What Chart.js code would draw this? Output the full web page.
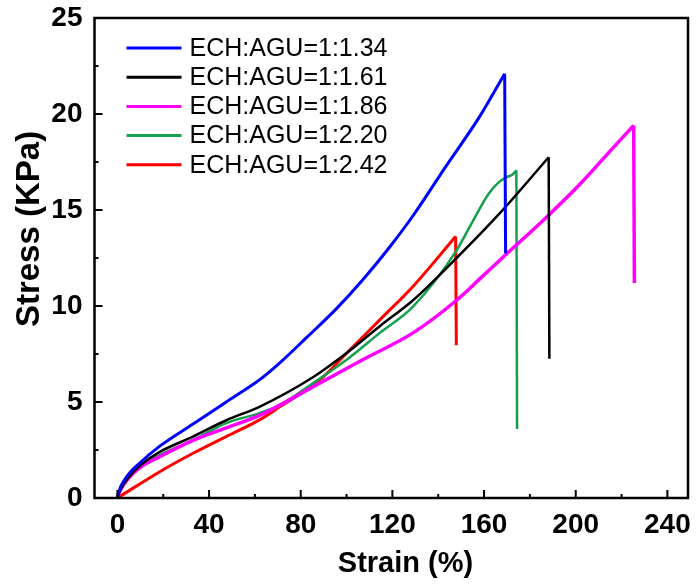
<!DOCTYPE html>
<html>
<head>
<meta charset="utf-8">
<script src="https://cdn.jsdelivr.net/npm/chart.js@4.4.1/dist/chart.umd.min.js"></script>
<style>
  html, body { margin: 0; padding: 0; background: #fff; }
  canvas { display: block; }
</style>
</head>
<body>
<canvas id="chart" width="697" height="586"></canvas>
<script>
// Series labels and colours
const labels = ['ECH:AGU=1:1.34', 'ECH:AGU=1:1.61', 'ECH:AGU=1:1.86', 'ECH:AGU=1:2.20', 'ECH:AGU=1:2.42'];
const colors = ['#0000ff', '#000000', '#ff00ff', '#14a04e', '#ff0000'];

// Strain (%) / Stress (KPa) (last point = stress after break)
const strain134 = [0, 0.4, 4, 10, 18.5, 33, 47.5, 56.5, 62, 71, 82.5, 95.5, 107, 119, 129, 143.5, 158, 169, 169.4];
const stress134 = [0, 0.25, 1.1, 1.85, 2.7, 3.85, 5.0, 5.7, 6.15, 7.05, 8.35, 9.85, 11.35, 13.1, 14.7, 17.3, 19.85, 22.1, 12.75];

const strain161 = [0, 1, 5, 10, 18.5, 33, 47.5, 62, 85.5, 100, 114.5, 129, 148, 167, 188.2, 188.5];
const stress161 = [0, 0.35, 1.1, 1.7, 2.4, 3.2, 4.05, 4.75, 6.3, 7.55, 8.95, 10.3, 12.5, 14.85, 17.75, 7.25];

const strain186 = [0, 1, 5, 10, 18.5, 33, 47.5, 62, 85.5, 107, 129, 148, 158, 167, 187, 201.5, 216, 225.3, 225.6];
const stress186 = [0, 0.35, 1.05, 1.6, 2.15, 3.0, 3.65, 4.3, 5.8, 7.2, 8.6, 10.3, 11.4, 12.4, 14.6, 16.3, 18.2, 19.4, 11.2];

const strain220 = [0, 1, 5, 10, 18.5, 33, 47.5, 62, 71, 85, 100, 114.5, 129, 148, 155, 162, 166.5, 169.7, 172.5, 174.1, 174.4];
const stress220 = [0, 0.35, 1.05, 1.6, 2.24, 3.02, 3.9, 4.42, 4.85, 5.95, 7.2, 8.6, 9.97, 12.9, 14.4, 15.85, 16.45, 16.7, 16.85, 17.07, 3.6];

const strain242 = [0, 18.5, 33, 47.5, 62, 71, 88.3, 100, 114.5, 129, 147.6, 147.9];
const stress242 = [0, 1.37, 2.33, 3.2, 4.07, 4.76, 6.15, 7.54, 9.28, 11.02, 13.62, 7.95];

// Axis ticks
const xTicks = [0, 40, 80, 120, 160, 200, 240];
const yTicks = [0, 5, 10, 15, 20, 25];

const strains = [strain134, strain161, strain186, strain220, strain242];
const stresses = [stress134, stress161, stress186, stress220, stress242];
const widths = [3, 2.5, 3.5, 2.5, 3];

const datasets = [];
labels.forEach((label, i) => {
    const pts = strains[i].map((x, j) => ({ x: x, y: stresses[i][j] }));
    // loading curve
    datasets.push({
        label: label,
        data: pts.slice(0, -1),
        borderColor: colors[i],
        backgroundColor: colors[i],
        borderWidth: widths[i],
        pointRadius: 0,
        showLine: true,
        cubicInterpolationMode: 'monotone'
    });
    // break (vertical drop)
    datasets.push({
        label: label + ' break',
        isBreak: true,
        data: pts.slice(-2),
        borderColor: colors[i],
        backgroundColor: colors[i],
        borderWidth: widths[i],
        pointRadius: 0,
        showLine: true,
        tension: 0
    });
});

const FONT = "'Liberation Sans', Arial, sans-serif";

// frame, inward ticks, titles and legend
const decorPlugin = {
    id: 'decor',
    afterDraw(chart) {
        const c = chart.ctx;
        const a = chart.chartArea;
        const xs = chart.scales.x;
        const ys = chart.scales.y;
        c.save();
        c.strokeStyle = '#000';
        c.lineWidth = 2.5;
        c.strokeRect(a.left, a.top, a.right - a.left, a.bottom - a.top);

        c.lineWidth = 2;
        c.beginPath();
        for (let v = 0; v <= 240; v += 20) {
            const px = xs.getPixelForValue(v);
            const len = xTicks.includes(v) ? 8 : 4;
            c.moveTo(px, a.bottom);
            c.lineTo(px, a.bottom - len);
        }
        for (let v = 2.5; v < 25; v += 2.5) {
            const py = ys.getPixelForValue(v);
            const len = yTicks.includes(v) ? 8 : 4;
            c.moveTo(a.left, py);
            c.lineTo(a.left + len, py);
        }
        c.stroke();

        // axis titles
        c.fillStyle = '#000';
        c.textAlign = 'center';
        c.textBaseline = 'middle';
        c.font = 'bold 29px ' + FONT;
        c.fillText('Strain (%)', a.left + 311, 564);
        c.save();
        c.translate(30, a.top + 211);
        c.rotate(-Math.PI / 2);
        c.font = 'bold 33px ' + FONT;
        c.fillText('Stress (KPa)', 0, 0);
        c.restore();

        // legend
        c.font = '25px ' + FONT;
        c.textAlign = 'left';
        chart.data.datasets.filter(ds => !ds.isBreak).forEach((ds, i) => {
            const y = a.top + 30 + i * 29.2;
            c.strokeStyle = ds.borderColor;
            c.lineWidth = 3;
            c.beginPath();
            c.moveTo(a.left + 32, y);
            c.lineTo(a.left + 87, y);
            c.stroke();
            c.fillStyle = '#000';
            c.fillText(ds.label, a.left + 95, y + 1);
        });
        c.restore();
    }
};

new Chart(document.getElementById('chart'), {
    type: 'scatter',
    data: { datasets: datasets },
    options: {
        responsive: false,
        animation: false,
        layout: { padding: { top: 18, right: 9, left: 0, bottom: 0 } },
        plugins: { legend: { display: false }, tooltip: { enabled: false } },
        scales: {
            x: {
                type: 'linear',
                min: -10,
                max: 249,
                afterBuildTicks: (s) => { s.ticks = xTicks.map(v => ({ value: v })); },
                afterFit: (s) => { s.height = 88; s.paddingLeft = 0; s.paddingRight = 0; },
                grid: { display: false, drawTicks: false },
                border: { display: false },
                ticks: { color: '#000', padding: 10, font: { family: FONT, size: 28, weight: 'bold' } }
            },
            y: {
                type: 'linear',
                min: 0,
                max: 25,
                afterBuildTicks: (s) => { s.ticks = yTicks.map(v => ({ value: v })); },
                afterFit: (s) => { s.width = 94.5; s.paddingTop = 0; s.paddingBottom = 0; },
                grid: { display: false, drawTicks: false },
                border: { display: false },
                ticks: { color: '#000', padding: 12, font: { family: FONT, size: 28, weight: 'bold' } }
            }
        }
    },
    plugins: [decorPlugin]
});
</script>
</body>
</html>
